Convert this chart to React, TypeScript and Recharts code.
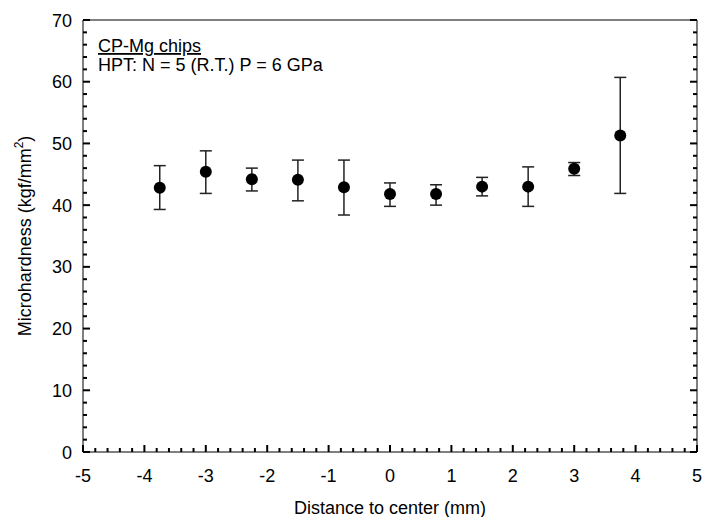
import React from "react";
import { ScatterChart, Scatter, XAxis, YAxis, ErrorBar, Customized } from "recharts";

// distance from disc center (mm)
const distance = [-3.75, -3, -2.25, -1.5, -0.75, 0, 0.75, 1.5, 2.25, 3, 3.75];
// mean microhardness (kgf/mm2)
const hardness = [42.8, 45.4, 44.2, 44.1, 42.9, 41.8, 41.8, 43.0, 43.0, 45.9, 51.3];
// error bar ends
const upper = [46.4, 48.8, 46.0, 47.3, 47.3, 43.6, 43.3, 44.5, 46.2, 46.9, 60.7];
const lower = [39.3, 41.9, 42.3, 40.7, 38.4, 39.8, 40.0, 41.5, 39.8, 44.8, 41.9];

const xMajor = [-5, -4, -3, -2, -1, 0, 1, 2, 3, 4, 5];
const yMajor = [0, 10, 20, 30, 40, 50, 60, 70];
// minor ticks every 0.2 mm and every 2 units
const xTicks = Array.from({ length: 51 }, (_, i) => Math.round((-5 + i * 0.2) * 10) / 10);
const yTicks = Array.from({ length: 36 }, (_, i) => i * 2);

const data = distance.map((d, i) => ({
  x: d,
  y: hardness[i],
  err: [hardness[i] - lower[i], upper[i] - hardness[i]],
}));

const FONT = "'Liberation Sans', Arial, sans-serif";
const INK = "#000";
const isMajor = (v: number, major: number[]) => major.some((m) => Math.abs(m - v) < 1e-6);

// inward ticks, labels only on bottom/left majors
const makeTick = (side: string, major: number[], label: boolean) => (props: any) => {
  const { x, y, payload } = props;
  const v = payload.value;
  const big = isMajor(v, major);
  const len = big ? 7 : 4;
  const d =
    side === "bottom" ? `M${x},${y}V${y - len}` :
    side === "top" ? `M${x},${y}V${y + len}` :
    side === "left" ? `M${x},${y}H${x + len}` : `M${x},${y}H${x - len}`;
  return (
    <g>
      <path d={d} stroke={INK} strokeWidth={2} fill="none" />
      {label && big && side === "bottom" && (
        <text x={x} y={y + 30} textAnchor="middle" fontSize={18} fontFamily={FONT} fill={INK}>{v}</text>
      )}
      {label && big && side === "left" && (
        <text x={x - 11} y={y + 6.5} textAnchor="end" fontSize={18} fontFamily={FONT} fill={INK}>{v}</text>
      )}
    </g>
  );
};

const Annotation = () => (
  <g fontFamily={FONT} fontSize={18} fill={INK}>
    <text x={98} y={52} textDecoration="underline">CP-Mg chips</text>
    <text x={98} y={71}>HPT: N = 5 (R.T.) P = 6 GPa</text>
    <text x={390} y={514} textAnchor="middle">Distance to center (mm)</text>
    <text x={31} y={236} textAnchor="middle" transform="rotate(-90 31 236)">
      Microhardness (kgf/mm<tspan fontSize={12} dy={-8}>2</tspan><tspan dy={8}>)</tspan>
    </text>
  </g>
);

export default function App() {
  return (
    <div style={{ position: "absolute", left: 0, top: 0, background: "#fff" }}>
      <ScatterChart width={707} height={517} margin={{ top: 19, right: 9, bottom: 25, left: 5 }}>
        <XAxis xAxisId="b" type="number" dataKey="x" domain={[-5, 5]} ticks={xTicks} interval={0}
          tickSize={0} tickMargin={0} tickLine={false} height={40} stroke={INK}
          tick={makeTick("bottom", xMajor, true)} allowDataOverflow />
        <XAxis xAxisId="t" orientation="top" type="number" domain={[-5, 5]} ticks={xTicks} interval={0}
          tickSize={0} tickMargin={0} tickLine={false} height={1} stroke={INK}
          tick={makeTick("top", xMajor, false)} allowDataOverflow />
        <YAxis yAxisId="l" type="number" dataKey="y" domain={[0, 70]} ticks={yTicks} interval={0}
          tickSize={0} tickMargin={0} tickLine={false} width={78} stroke={INK}
          tick={makeTick("left", yMajor, true)} allowDataOverflow />
        <YAxis yAxisId="r" orientation="right" type="number" domain={[0, 70]} ticks={yTicks} interval={0}
          tickSize={0} tickMargin={0} tickLine={false} width={1} stroke={INK}
          tick={makeTick("right", yMajor, false)} allowDataOverflow />
        <Scatter xAxisId="b" yAxisId="l" data={data} fill={INK} isAnimationActive={false}
          shape={(p: any) => <circle cx={p.cx} cy={p.cy} r={6} fill={INK} />}>
          <ErrorBar dataKey="err" direction="y" width={6} stroke="#222" strokeWidth={1.5} isAnimationActive={false} />
        </Scatter>
        <Customized component={Annotation} />
      </ScatterChart>
    </div>
  );
}
